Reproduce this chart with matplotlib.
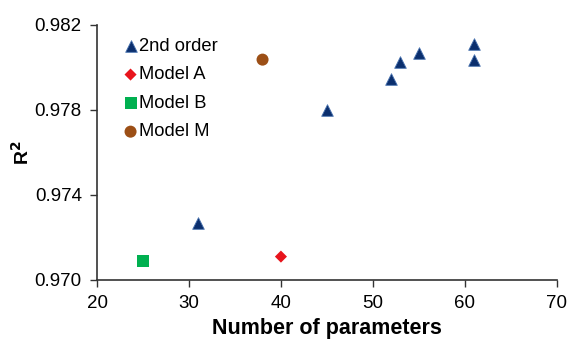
import matplotlib
matplotlib.use("Agg")
import matplotlib.pyplot as plt

plt.rcParams['font.family'] = ['Liberation Sans', 'DejaVu Sans']

# 2nd order models
x_2nd = [31, 45, 52, 53, 55, 61, 61]
y_2nd = [0.9727, 0.9780, 0.97946, 0.98026, 0.98068, 0.98110, 0.98034]
# other models
x_a, y_a = [40], [0.97110]
x_b, y_b = [25], [0.97088]
x_m, y_m = [38], [0.98037]

fig = plt.figure(figsize=(5.71, 3.40), dpi=100)
ax = fig.add_axes([0.170, 0.1765, 0.805, 0.75])

ax.scatter(x_2nd, y_2nd, marker='^', s=70, color='#0b2f6e', edgecolors='#4a74b0', linewidths=0.6, label='2nd order', zorder=3)
ax.scatter(x_a, y_a, marker='D', s=38, color='#e8141c', edgecolors='none', label='Model A', zorder=3)
ax.scatter(x_b, y_b, marker='s', s=75, color='#00b050', edgecolors='none', label='Model B', zorder=3)
ax.scatter(x_m, y_m, marker='o', s=75, color='#9c4f16', edgecolors='none', label='Model M', zorder=3)

ax.set_xlim(20, 70)
ax.set_ylim(0.970, 0.982)
ax.set_xticks([20, 30, 40, 50, 60, 70])
ax.set_yticks([0.970, 0.974, 0.978, 0.982])
ax.set_yticklabels(['0.970', '0.974', '0.978', '0.982'])
ax.tick_params(labelsize=13.5, length=5, width=1, color='#333333', pad=6)
for side in ['top', 'right']:
    ax.spines[side].set_visible(False)
for side in ['left', 'bottom']:
    ax.spines[side].set_color('#333333')
    ax.spines[side].set_linewidth(1.2)

ax.set_xlabel('Number of parameters', fontsize=15.5, fontweight='bold', labelpad=4)
ax.set_ylabel('R$^\\mathbf{2}$', fontsize=14, fontweight='bold', labelpad=1)

ax.legend(loc='upper left', bbox_to_anchor=(0.015, 1.0), frameon=False, fontsize=13.2,
          handletextpad=-0.3, labelspacing=0.63, borderpad=0.2, handlelength=1.5, scatterpoints=1)

fig.savefig('out.png', dpi=100)
